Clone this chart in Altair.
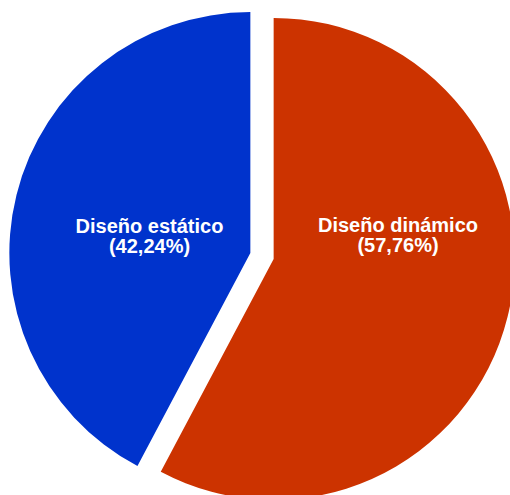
import math
import altair as alt
import pandas as pd

# ---- data ----
categories = ["Diseño dinámico", "Diseño estático"]
values = [57.76, 42.24]
colors = ["#CC3300", "#0033CC"]

# ---- layout ----
W, H = 510, 495
CX, CY = 262, 256
R = 241
EXPLODE = 12
label_pos = {"Diseño dinámico": (398, 232), "Diseño estático": (149.5, 232.5)}

starts, ends = [], []
acc = 0.0
for v in values:
    starts.append(acc)
    acc += v
    ends.append(acc)

def fmt(v):
    return f"{v:.2f}".replace(".", ",")

df = pd.DataFrame({
    "name": categories,
    "value": values,
    "start": starts,
    "end": ends,
    "label": [f"{c}\n({fmt(v)}%)" for c, v in zip(categories, values)],
})

theta_scale = alt.Scale(domain=[0, 100], range=[0, 2 * math.pi])
layers = []
for i, name in enumerate(categories):
    mid = (starts[i] + ends[i]) / 2 / 100 * 2 * math.pi
    dx = EXPLODE * math.sin(mid)
    dy = -EXPLODE * math.cos(mid)
    arc = (
        alt.Chart(df)
        .transform_filter(alt.datum.name == name)
        .mark_arc(outerRadius=R, color=colors[i], stroke=None)
        .encode(
            theta=alt.Theta("start:Q", scale=theta_scale),
            theta2="end:Q",
            x=alt.value(CX + dx),
            y=alt.value(CY + dy),
        )
    )
    lx, ly = label_pos[name]
    txt = (
        alt.Chart(df)
        .transform_filter(alt.datum.name == name)
        .mark_text(
            font="Liberation Sans",
            fontWeight="bold",
            fontSize=20,
            color="white",
            lineBreak="\n",
            lineHeight=20,
            align="center",
            baseline="alphabetic",
        )
        .encode(text="label:N", x=alt.value(lx), y=alt.value(ly))
    )
    layers += [arc, txt]

chart = (
    alt.layer(*layers)
    .properties(width=W, height=H, padding=0, autosize=alt.AutoSizeParams(type="none"), background="white")
    .configure_view(stroke=None)
)

chart.save("out.html", embed_options={"renderer": "svg", "actions": False})
